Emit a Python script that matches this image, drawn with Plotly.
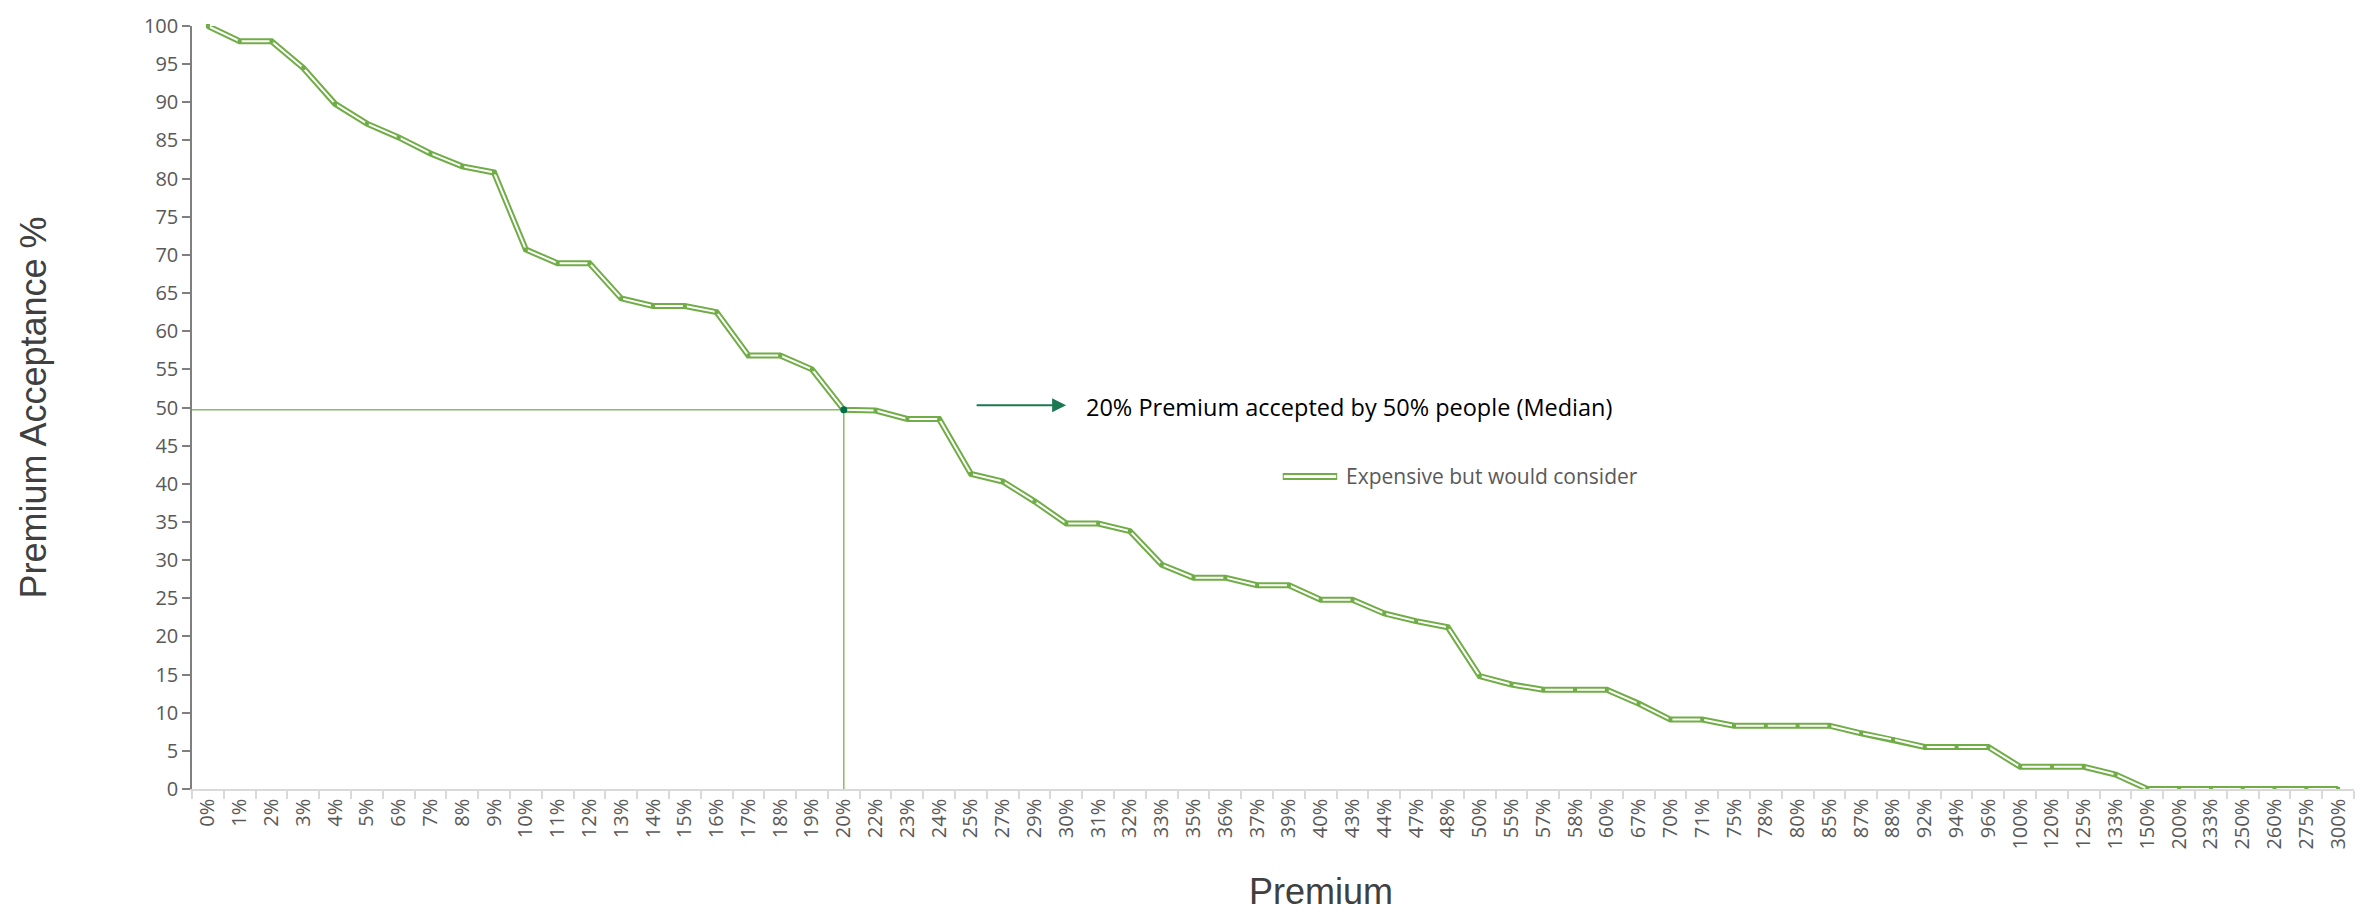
import plotly.graph_objects as go

# ---------------- data ----------------
premium_labels = [
    "0%", "1%", "2%", "3%", "4%", "5%", "6%", "7%", "8%", "9%", "10%",
    "11%", "12%", "13%", "14%", "15%", "16%", "17%", "18%", "19%", "20%",
    "22%", "23%", "24%", "25%", "27%", "29%", "30%", "31%", "32%", "33%",
    "35%", "36%", "37%", "39%", "40%", "43%", "44%", "47%", "48%",
    "50%", "55%", "57%", "58%", "60%", "67%", "70%", "71%", "75%", "78%",
    "80%", "85%", "87%", "88%", "92%", "94%", "96%",
    "100%", "120%", "125%", "133%", "150%", "200%", "233%", "250%", "260%",
    "275%", "300%",
]
acceptance = [
    100, 98, 98, 94.5, 89.8, 87.2, 85.4, 83.3, 81.6, 80.8, 70.7,
    68.9, 68.9, 64.3, 63.3, 63.3, 62.5, 56.8, 56.8, 55.0, 49.7,
    49.6, 48.5, 48.5, 41.3, 40.3, 37.7, 34.8, 34.8, 33.8, 29.4,
    27.7, 27.7, 26.7, 26.7, 24.8, 24.8, 23.0, 22.0, 21.2,
    14.8, 13.7, 13.0, 13.0, 13.0, 11.2, 9.1, 9.1, 8.3, 8.3,
    8.3, 8.3, 7.3, 6.5, 5.5, 5.5, 5.5,
    2.9, 2.9, 2.9, 1.9, 0, 0, 0, 0, 0,
    0, 0,
]
series_name = "Expensive but would consider"
median_premium = "20%"
median_note = "20% Premium accepted by 50% people (Median)"
y_ticks = list(range(0, 101, 5))

# ---------------- styling ----------------
GREEN = "#70AD47"
LIGHT_GREEN = "#86BE62"
DARK_GREEN = "#00704A"
ARROW_GREEN = "#1B7852"
TICK_GRAY = "#595959"
TITLE_GRAY = "#404040"
TICK_FONT = dict(family="Open Sans", size=20, color=TICK_GRAY)

n = len(premium_labels)
mi = premium_labels.index(median_premium)
mv = acceptance[mi]
centers = list(range(n))
bounds = [i - 0.5 for i in range(n + 1)]

fig = go.Figure()

# double line: green outer, white inner
fig.add_trace(go.Scatter(
    x=premium_labels, y=acceptance, mode="lines", name=series_name,
    line=dict(color=GREEN, width=6), showlegend=False, hoverinfo="skip"))
fig.add_trace(go.Scatter(
    x=premium_labels, y=acceptance, mode="lines", name=series_name,
    line=dict(color="white", width=2), showlegend=False, hoverinfo="skip"))
fig.add_trace(go.Scatter(
    x=premium_labels, y=acceptance, mode="markers", name=series_name,
    marker=dict(symbol="square", size=4, color=GREEN), showlegend=False,
    cliponaxis=False))

# median guide lines (derived from data)
fig.add_shape(type="line", xref="x", yref="y", x0=-0.5, x1=mi, y0=mv, y1=mv,
              line=dict(color=LIGHT_GREEN, width=1.5), layer="below")
fig.add_shape(type="line", xref="x", yref="y", x0=mi, x1=mi, y0=0, y1=mv,
              line=dict(color=LIGHT_GREEN, width=1.5), layer="below")

# median point
fig.add_trace(go.Scatter(
    x=[median_premium], y=[mv], mode="markers", showlegend=False,
    marker=dict(symbol="circle", size=7, color=DARK_GREEN)))

# arrow + note
fig.add_annotation(xref="paper", yref="paper", x=0.4043, y=0.503,
                   ax=-91, ay=0, text="", showarrow=True,
                   arrowhead=2, arrowsize=1.4, arrowwidth=2, arrowcolor=ARROW_GREEN)
fig.add_annotation(xref="paper", yref="paper", x=0.4125, y=0.501,
                   xanchor="left", yanchor="middle", showarrow=False,
                   text=median_note,
                   font=dict(family="Open Sans", size=23.5, color="black"))

# manual legend (double-line symbol)
fig.add_shape(type="line", xref="paper", yref="paper", x0=0.5045, x1=0.5297,
              y0=0.4096, y1=0.4096, line=dict(color=GREEN, width=7))
fig.add_shape(type="line", xref="paper", yref="paper", x0=0.5050, x1=0.5292,
              y0=0.4096, y1=0.4096, line=dict(color="white", width=3))
fig.add_annotation(xref="paper", yref="paper", x=0.5330, y=0.4096,
                   xanchor="left", yanchor="middle", showarrow=False,
                   text=series_name,
                   font=dict(family="Open Sans", size=21, color=TICK_GRAY))

# axis titles
fig.add_annotation(xref="paper", yref="paper", x=0.522, y=-0.164,
                   xanchor="center", yanchor="bottom", showarrow=False,
                   text="Premium",
                   font=dict(family="Liberation Sans, Arial", size=36, color=TITLE_GRAY))
fig.add_annotation(xref="paper", yref="paper", x=-0.0735, y=0.5,
                   xanchor="center", yanchor="middle", showarrow=False,
                   textangle=-90, text="Premium Acceptance %",
                   font=dict(family="Liberation Sans, Arial", size=36, color=TITLE_GRAY))

fig.update_layout(
    width=2371, height=917,
    margin=dict(l=192, r=17, t=14, b=128),
    paper_bgcolor="white", plot_bgcolor="white",
    showlegend=False,
    xaxis=dict(
        type="category", categoryorder="array", categoryarray=premium_labels,
        range=[-0.5, n - 0.5], showgrid=False, zeroline=False,
        showline=True, linecolor="#D9D9D9", linewidth=1.5,
        ticks="outside", tickson="boundaries", ticklen=8, tickwidth=1.5,
        tickcolor="#D9D9D9", tickangle=-90, tickfont=TICK_FONT,
        fixedrange=True,
    ),
    xaxis2=dict(
        overlaying="x", anchor="y", type="linear", range=[-0.5, n - 0.5],
        showgrid=False, zeroline=False, showline=False, showticklabels=False,
        tickmode="array", tickvals=bounds, ticks="inside", ticklen=7,
        tickwidth=1.5, tickcolor="#D9D9D9",
        minor=dict(tickmode="array", tickvals=centers, ticks="inside",
                   ticklen=7, tickwidth=1.5, tickcolor="#D9D9D9", showgrid=False),
    ),
    xaxis3=dict(
        overlaying="x", anchor="y", type="linear", range=[-0.5, n - 0.5],
        showgrid=False, zeroline=False, showline=False, showticklabels=False,
        tickmode="array", tickvals=centers, ticks="outside", ticklen=5,
        tickwidth=1.5, tickcolor="#D9D9D9",
    ),
    yaxis=dict(
        range=[0, 100], tickmode="array", tickvals=y_ticks,
        showgrid=False, zeroline=False, showline=True,
        linecolor="#7F7F7F", linewidth=1.5,
        ticks="outside", ticklen=8, tickwidth=1.5, tickcolor="#7F7F7F",
        tickfont=TICK_FONT, fixedrange=True,
    ),
    yaxis2=dict(
        overlaying="y", anchor="x", side="left", range=[0, 100],
        tickmode="array", tickvals=y_ticks, showgrid=False, zeroline=False,
        showline=False, showticklabels=False, ticks="inside", ticklen=8,
        tickwidth=1.5, tickcolor="#7F7F7F",
    ),
)

fig.write_html(
    "out.html",
    config={"displayModeBar": False},
    post_script="document.body.style.margin='0px';document.body.style.overflow='hidden';",
)
